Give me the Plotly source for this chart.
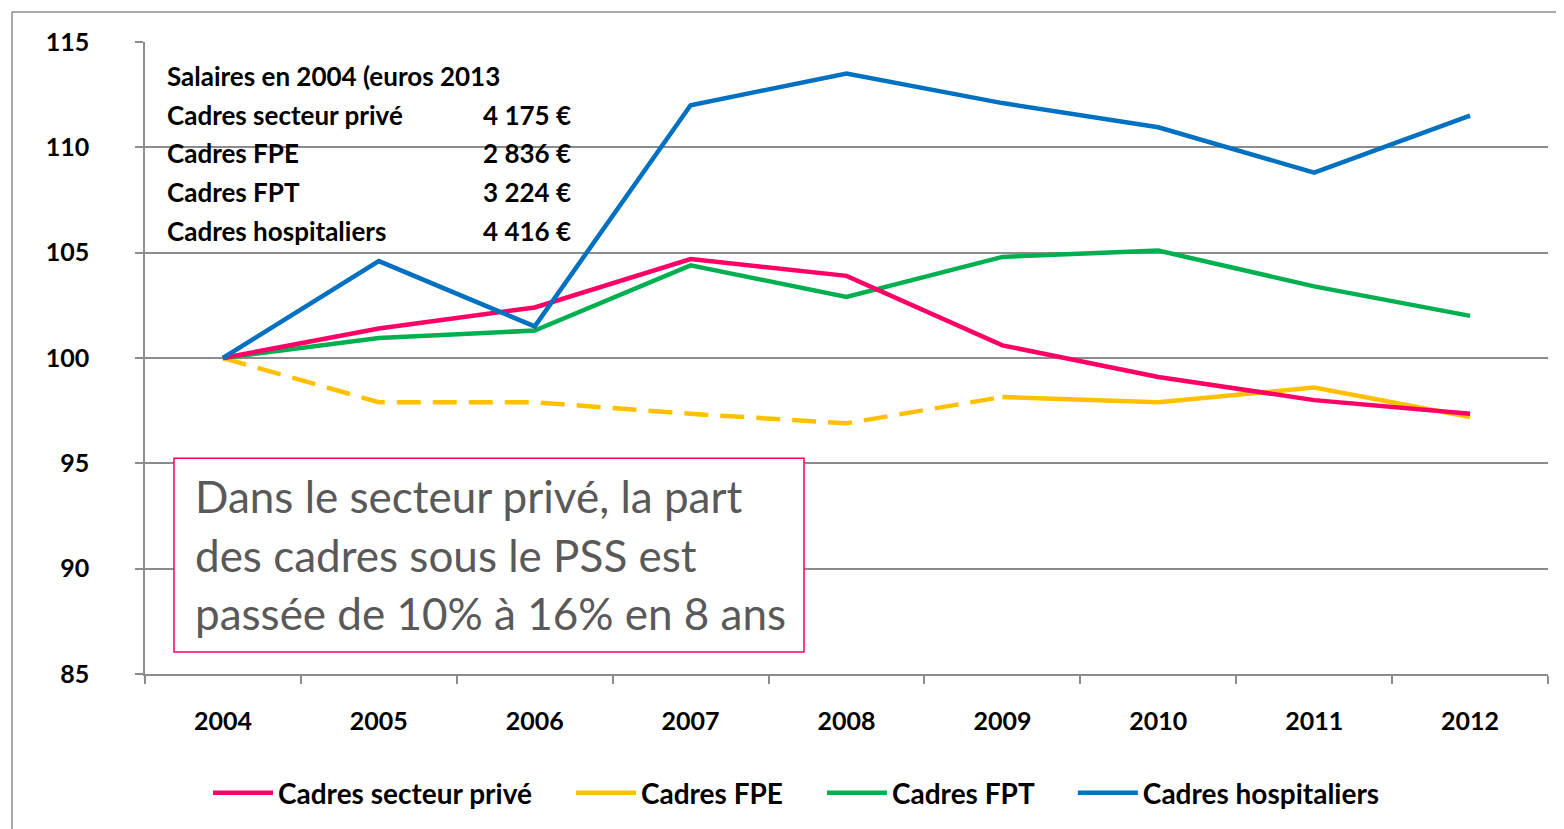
import plotly.graph_objects as go

years = ["2004", "2005", "2006", "2007", "2008", "2009", "2010", "2011", "2012"]
prive = [100, 101.4, 102.4, 104.7, 103.9, 100.6, 99.1, 98.0, 97.35]
fpe = [100, 97.9, 97.9, 97.35, 96.9, 98.15, 97.9, 98.6, 97.2]
fpt = [100, 100.95, 101.3, 104.4, 102.9, 104.8, 105.1, 103.4, 102.0]
hosp = [100, 104.6, 101.5, 112.0, 113.5, 112.1, 110.95, 108.8, 111.5]

table_labels = ["Cadres secteur privé", "Cadres FPE", "Cadres FPT", "Cadres hospitaliers"]
table_values = ["4 175 €", "2 836 €", "3 224 €", "4 416 €"]
table_title = "Salaires en 2004 (euros 2013"
box_lines = ["Dans le secteur privé, la part", "des cadres sous le PSS est", "passée de 10% à 16% en 8 ans"]

C_PRIVE = "#FF0066"
C_FPE = "#FFC000"
C_FPT = "#00B050"
C_HOSP = "#0070C0"
GRID = "#8C8C8C"
FONT = "Lato"
PAD = "\u00a0" * 5

fig = go.Figure()
fig.add_trace(go.Scatter(x=years[:6], y=fpe[:6], mode="lines", showlegend=False,
                         line=dict(color=C_FPE, width=4.5, dash="24px,12px"), hoverinfo="skip"))
fig.add_trace(go.Scatter(x=years[5:], y=fpe[5:], mode="lines", name="Cadres FPE" + PAD, legendrank=2,
                         line=dict(color=C_FPE, width=4.5)))
fig.add_trace(go.Scatter(x=years, y=fpt, mode="lines", name="Cadres FPT" + PAD, legendrank=3,
                         line=dict(color=C_FPT, width=4.5)))
fig.add_trace(go.Scatter(x=years, y=prive, mode="lines", name="Cadres secteur privé" + PAD, legendrank=1,
                         line=dict(color=C_PRIVE, width=4.5)))
fig.add_trace(go.Scatter(x=years, y=hosp, mode="lines", name="Cadres hospitaliers", legendrank=4,
                         line=dict(color=C_HOSP, width=4.5)))

# page is rendered with an 8px body margin: figure occupies page pixels 8..1564 / 8..829
OFF = 8
PAGE_W, PAGE_H = 1564, 829
PL, PR, PT, PB = 145, 1548, 42, 675  # plot area in page pixels
W, H = PAGE_W - OFF, PAGE_H - OFF
pw, ph = PR - PL, PB - PT


def px_x(p):
    return (p - PL) / pw


def px_y(p):
    return (PB - p) / ph


bold = dict(family=FONT, size=26, color="black", weight="bold")
annotations = []
rows_y = [76, 115, 153, 192, 231]
annotations.append(dict(text=table_title, x=px_x(165), y=px_y(rows_y[0]), xref="paper", yref="paper",
                        xanchor="left", yanchor="middle", showarrow=False, font=bold))
for lab, val, yy in zip(table_labels, table_values, rows_y[1:]):
    annotations.append(dict(text=lab, x=px_x(165), y=px_y(yy), xref="paper", yref="paper",
                            xanchor="left", yanchor="middle", showarrow=False, font=bold))
    annotations.append(dict(text=val, x=px_x(573), y=px_y(yy), xref="paper", yref="paper",
                            xanchor="right", yanchor="middle", showarrow=False, font=bold))

for line, yy in zip(box_lines, [497, 556, 614]):
    annotations.append(dict(text=line, x=px_x(193), y=px_y(yy), xref="paper", yref="paper",
                            xanchor="left", yanchor="middle", showarrow=False,
                            font=dict(family=FONT, size=44, color="#595959")))

shapes = [
    dict(type="rect", xref="paper", yref="paper", x0=px_x(174), x1=px_x(804), y0=px_y(653), y1=px_y(459),
         line=dict(color=C_PRIVE, width=1.5), fillcolor="white", layer="above"),
    dict(type="line", xref="paper", yref="paper", x0=px_x(12), x1=px_x(1600), y0=px_y(12), y1=px_y(12),
         line=dict(color=GRID, width=1.5)),
    dict(type="line", xref="paper", yref="paper", x0=px_x(12), x1=px_x(12), y0=px_y(12), y1=px_y(900),
         line=dict(color=GRID, width=1.5)),
]

fig.update_layout(
    width=W, height=H,
    margin=dict(l=PL - OFF, r=PAGE_W - PR, t=PT - OFF, b=PAGE_H - PB),
    paper_bgcolor="white", plot_bgcolor="white",
    font=dict(family=FONT, color="black"),
    annotations=annotations,
    shapes=shapes,
    legend=dict(orientation="h", x=px_x(208), y=px_y(793), xanchor="left", yanchor="middle",
                font=dict(family=FONT, size=28, color="black", weight="bold"),
                itemwidth=60, tracegroupgap=0, bgcolor="rgba(0,0,0,0)"),
    showlegend=True,
)
fig.update_xaxes(type="category", range=[-0.5, 8.5], showgrid=False, showline=True, linecolor=GRID,
                 linewidth=1.5, ticks="outside", tickson="boundaries", ticklen=8, tickcolor=GRID,
                 tickwidth=1.5, ticklabelstandoff=24,
                 tickfont=dict(family=FONT, size=25, color="black", weight="bold"))
fig.update_yaxes(range=[85, 115], dtick=5, tick0=85, showgrid=True, gridcolor=GRID, gridwidth=1.5,
                 showline=True, linecolor=GRID, linewidth=1.5, ticks="outside", ticklen=8,
                 tickcolor=GRID, tickwidth=1.5, ticklabelstandoff=41, zeroline=False,
                 tickfont=dict(family=FONT, size=25, color="black", weight="bold"))

fig.write_html("out.html")
